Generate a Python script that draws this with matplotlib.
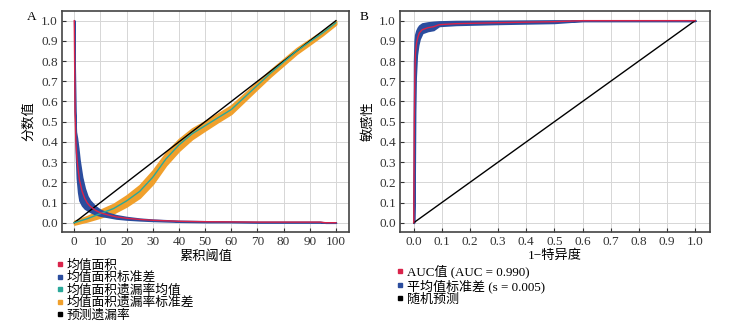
import matplotlib
matplotlib.use('Agg')
import matplotlib.pyplot as plt
from matplotlib.lines import Line2D

plt.rcParams['font.family'] = ['Liberation Serif', 'Noto Sans CJK SC']
plt.rcParams['axes.unicode_minus'] = False

# A 图: 累积阈值 vs 分数值
thr = [0, 0.3, 0.6, 1, 1.5, 2, 3, 4, 5, 6, 8, 10, 13, 16, 20, 25, 30, 40, 50, 60, 70, 80, 90, 94, 96, 100]
area_mean = [1.0, 0.55, 0.4, 0.32, 0.26, 0.21, 0.155, 0.12, 0.097, 0.082, 0.062, 0.049, 0.038, 0.029, 0.022,
             0.016, 0.012, 0.007, 0.005, 0.004, 0.003, 0.003, 0.003, 0.003, 0.0, 0.0]
area_std = [0.0, 0.0, 0.05, 0.1, 0.11, 0.1, 0.07, 0.05, 0.035, 0.028, 0.02, 0.014, 0.01, 0.008, 0.006, 0.004,
            0.003, 0.002, 0.002, 0.001, 0.001, 0.001, 0.001, 0.001, 0.0, 0.0]

miss_x = [0, 5, 10, 15, 20, 25, 30, 35, 40, 45, 50, 55, 60, 65, 70, 75, 80, 85, 90, 95, 100]
miss_mean = [0.0, 0.02, 0.045, 0.07, 0.108, 0.155, 0.225, 0.315, 0.385, 0.44, 0.48, 0.52, 0.56, 0.62, 0.68,
             0.74, 0.795, 0.85, 0.895, 0.94, 0.99]
miss_std = [0.008, 0.012, 0.018, 0.022, 0.026, 0.03, 0.032, 0.03, 0.028, 0.025, 0.022, 0.02, 0.02, 0.018, 0.016,
            0.015, 0.014, 0.013, 0.012, 0.01, 0.008]
pred_x = [0, 100]
pred_y = [0.0, 1.0]

# B 图: ROC
fpr = [0, 0.002, 0.004, 0.006, 0.01, 0.015, 0.02, 0.03, 0.05, 0.07, 0.09, 0.15, 0.3, 0.5, 0.6, 1.0]
tpr = [0, 0.5, 0.75, 0.84, 0.89, 0.92, 0.94, 0.955, 0.965, 0.97, 0.98, 0.985, 0.99, 0.995, 1.0, 1.0]
tpr_lo = [0, 0.15, 0.55, 0.72, 0.83, 0.88, 0.91, 0.94, 0.95, 0.955, 0.975, 0.98, 0.985, 0.99, 1.0, 1.0]
tpr_hi = [0, 0.8, 0.9, 0.93, 0.95, 0.965, 0.975, 0.985, 0.99, 0.993, 0.995, 0.997, 0.998, 1.0, 1.0, 1.0]
rand_x = [0, 1]
rand_y = [0, 1]

red = '#d9234a'
blue = '#2b4d9e'
teal = '#2aa89a'
orange = '#f0a02c'

fig = plt.figure(figsize=(7.44, 3.27), dpi=100)
axA = fig.add_axes([0.0833, 0.2905, 0.3858, 0.676])
axB = fig.add_axes([0.5376, 0.2905, 0.4167, 0.676])


def style(ax):
    ax.grid(True, color='#d6d6d6', lw=0.7)
    ax.set_axisbelow(True)
    ax.tick_params(direction='in', labelsize=9.5, length=3, width=0.8, colors='#333333', pad=3)
    for s in ax.spines.values():
        s.set_color('#444444')
        s.set_linewidth(1.2)


# A
lo = [m - s for m, s in zip(miss_mean, miss_std)]
hi = [m + s for m, s in zip(miss_mean, miss_std)]
axA.fill_between(miss_x, lo, hi, color=orange, lw=1.5, edgecolor=orange)
axA.plot(pred_x, pred_y, color='black', lw=1.0)
axA.plot(miss_x, miss_mean, color=teal, lw=1.0)
alo = [m - s for m, s in zip(area_mean, area_std)]
ahi = [m + s for m, s in zip(area_mean, area_std)]
axA.fill_between(thr, alo, ahi, color=blue, lw=1.2, edgecolor=blue)
axA.plot(thr, area_mean, color=red, lw=1.0)
axA.set_xlim(-4.7, 105)
axA.set_ylim(-0.046, 1.048)
axA.set_xticks(range(0, 101, 10))
axA.set_yticks([i / 10 for i in range(11)])
style(axA)
axA.set_xlabel('累积阈值', fontsize=9.5, labelpad=2)
axA.set_ylabel('分数值', fontsize=9.5, labelpad=4)

# B
axB.fill_between(fpr, tpr_lo, tpr_hi, color=blue, lw=1.5, edgecolor=blue)
axB.plot(rand_x, rand_y, color='black', lw=1.0)
axB.plot(fpr, tpr, color=red, lw=1.0)
axB.set_xlim(-0.049, 1.053)
axB.set_ylim(-0.046, 1.048)
axB.set_xticks([i / 10 for i in range(11)])
axB.set_yticks([i / 10 for i in range(11)])
style(axB)
axB.set_xlabel('1−特异度', fontsize=9.5, labelpad=1)
axB.set_ylabel('敏感性', fontsize=9.5, labelpad=3)

fig.text(27 / 744, 1 - 20 / 327, 'A', fontsize=9.5)
fig.text(360 / 744, 1 - 20 / 327, 'B', fontsize=9.5)


def sq(c):
    return Line2D([], [], ls='none', marker='s', markersize=3, color=c)


legA = ['均值面积', '均值面积标准差', '均值面积遗漏率均值', '均值面积遗漏率标准差', '预测遗漏率']
fig.legend([sq(red), sq(blue), sq(teal), sq(orange), sq('black')], legA,
           loc='upper left', bbox_to_anchor=(50 / 744, 1 - 253 / 327), frameon=False,
           fontsize=9.2, handlelength=0.5, handletextpad=0.3, labelspacing=0.02, borderpad=0)

legB = ['AUC值 (AUC = 0.990)', '平均值标准差 (s = 0.005)', '随机预测']
fig.legend([sq(red), sq(blue), sq('black')], legB,
           loc='upper left', bbox_to_anchor=(390 / 744, 1 - 258 / 327), frameon=False,
           fontsize=9.4, handlelength=0.5, handletextpad=0.3, labelspacing=0.05, borderpad=0)

fig.savefig('out.png', dpi=100)
